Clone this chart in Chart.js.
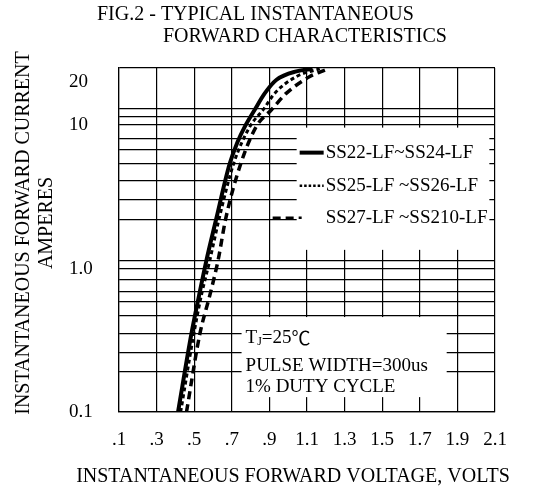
<!DOCTYPE html>
<html>
<head>
<meta charset="utf-8">
<script src="https://cdn.jsdelivr.net/npm/chart.js@4.4.0/dist/chart.umd.min.js"></script>
<style>
    html, body { margin: 0; padding: 0; background: #fff; }
    #wrap { width: 559px; height: 502px; }
</style>
</head>
<body>
<div id="wrap"><canvas id="myChart" width="559" height="502"></canvas></div>
<script>
// forward voltage (V) vs forward current (A)
const vfA = [0.414, 0.485, 0.526, 0.565, 0.618, 0.665, 0.689, 0.730, 0.770, 0.822, 0.876, 0.938, 1.044, 1.13];
const ifA = [0.1, 0.35, 0.65, 1.14, 2.24, 4.1, 5.4, 7.6, 9.8, 12.8, 16.7, 20.7, 23.7, 24.6];

const vfB = [0.428, 0.498, 0.538, 0.583, 0.633, 0.710, 0.797, 0.867, 0.929, 1.044, 1.168];
const ifB = [0.1, 0.35, 0.65, 1.14, 2.24, 5.4, 9.8, 12.8, 16.7, 21.8, 24.7];

const vfC = [0.459, 0.530, 0.583, 0.627, 0.668, 0.748, 0.831, 0.911, 0.991, 1.115, 1.20];
const ifC = [0.1, 0.35, 0.65, 1.14, 2.24, 5.4, 9.8, 12.8, 16.7, 21.8, 24.3];

const seriesNames = ['SS22-LF~SS24-LF', 'SS25-LF ~SS26-LF', 'SS27-LF ~SS210-LF'];

const xTicks = [0.1, 0.3, 0.5, 0.7, 0.9, 1.1, 1.3, 1.5, 1.7, 1.9, 2.1];
const xTickLabels = ['.1', '.3', '.5', '.7', '.9', '1.1', '1.3', '1.5', '1.7', '1.9', '2.1'];

// horizontal rules as drawn on the sheet (not a clean log grid)
const yGrid = [0.1, 0.19, 0.26, 0.35, 0.47, 0.59, 0.69, 0.84, 1, 1.13, 2.2, 3, 4.1, 5.4, 6.8, 8.1, 10, 11.5, 13.1, 20, 25];
const yTickLabels = { '0.1': '0.1', '1': '1.0', '10': '10', '20': '20' };

const serif = '"Liberation Serif", "Times New Roman", serif';

function pts(xs, ys) {
    return xs.map(function(v, i) { return { x: v, y: ys[i] }; });
}

const paperBits = {
    id: 'paperBits',
    beforeDatasetsDraw: function(chart) {
        let ctx = chart.ctx;
        let x = chart.scales.x, y = chart.scales.y;
        ctx.save();
        ctx.fillStyle = '#fff';
        // legend block
        let l = x.getPixelForValue(1.045), r = x.getPixelForValue(2.07);
        let t = y.getPixelForValue(9.6), b = y.getPixelForValue(1.35);
        ctx.fillRect(l, t, r - l, b - t);
        // test condition block
        l = x.getPixelForValue(0.752); r = x.getPixelForValue(1.843);
        t = y.getPixelForValue(0.459); b = y.getPixelForValue(0.127);
        ctx.fillRect(l, t, r - l, b - t);
        ctx.restore();
    },
    afterDraw: function(chart) {
        let ctx = chart.ctx;
        let x = chart.scales.x, y = chart.scales.y;
        ctx.save();
        ctx.fillStyle = '#000';
        ctx.strokeStyle = '#000';
        ctx.textBaseline = 'middle';

        // title
        ctx.font = '20px ' + serif;
        ctx.textAlign = 'left';
        ctx.fillText('FIG.2 - TYPICAL INSTANTANEOUS', 97, 15);
        ctx.fillText('FORWARD CHARACTERISTICS', 163, 37);

        // x axis title
        ctx.textAlign = 'center';
        ctx.fillText('INSTANTANEOUS FORWARD VOLTAGE, VOLTS', 293, 477);

        // y axis title
        ctx.save();
        ctx.translate(24, 233);
        ctx.rotate(-Math.PI / 2);
        ctx.fillText('INSTANTANEOUS FORWARD CURRENT', 0, 0);
        ctx.restore();
        ctx.save();
        ctx.translate(47, 223);
        ctx.rotate(-Math.PI / 2);
        ctx.fillText('AMPERES', 0, 0);
        ctx.restore();

        // legend
        let lx = x.getPixelForValue(1.045);
        let ly = y.getPixelForValue(9.6);
        let rows = [ly + 25, ly + 58, ly + 90];
        let ds = chart.data.datasets;
        ctx.font = '19px ' + serif;
        ctx.textAlign = 'left';
        rows.forEach(function(ry, i) {
            ctx.save();
            ctx.lineWidth = i === 0 ? 4 : 2.5;
            ctx.setLineDash(i === 1 ? [2.5, 2] : (ds[i].borderDash || []));
            ctx.beginPath();
            let sx = i === 2 ? lx - 24 : lx + 3;
            let ex = i === 2 ? lx + 5 : lx + 27;
            ctx.moveTo(sx, ry);
            ctx.lineTo(ex, ry);
            ctx.stroke();
            ctx.restore();
            ctx.fillText(seriesNames[i], lx + 29, ry);
        });

        // test conditions
        let nx = x.getPixelForValue(0.752) + 4;
        let ny = y.getPixelForValue(0.459);
        ctx.fillText('T', nx, ny + 21);
        let tw = ctx.measureText('T').width;
        ctx.font = '12px ' + serif;
        ctx.fillText('J', nx + tw, ny + 25);
        let jw = ctx.measureText('J').width;
        ctx.font = '19px ' + serif;
        ctx.fillText('=25', nx + tw + jw, ny + 21);
        let ew = ctx.measureText('=25').width;
        ctx.font = '19px "Noto Sans CJK SC", "DejaVu Sans", sans-serif';
        ctx.fillText('\u2103', nx + tw + jw + ew, ny + 21);
        ctx.font = '19px ' + serif;
        ctx.fillText('PULSE WIDTH=300us', nx, ny + 49);
        ctx.fillText('1% DUTY CYCLE', nx, ny + 70);
        ctx.restore();
    }
};

let ctx = document.getElementById('myChart').getContext('2d');
let chart = new Chart(ctx, {
    type: 'line',
    data: {
        datasets: [{
            label: seriesNames[0],
            data: pts(vfA, ifA),
            borderColor: '#000',
            borderWidth: 4
        }, {
            label: seriesNames[1],
            data: pts(vfB, ifB),
            borderColor: '#000',
            borderWidth: 3,
            borderDash: [4, 3]
        }, {
            label: seriesNames[2],
            data: pts(vfC, ifC),
            borderColor: '#000',
            borderWidth: 3.5,
            borderDash: [8, 5]
        }]
    },
    options: {
        responsive: false,
        animation: false,
        layout: {
            padding: { top: 68, right: 64, bottom: 0, left: 69 }
        },
        elements: {
            point: { radius: 0 },
            line: { cubicInterpolationMode: 'monotone', fill: false }
        },
        plugins: {
            legend: { display: false },
            title: { display: false },
            tooltip: { enabled: false }
        },
        scales: {
            x: {
                type: 'linear',
                min: 0.1,
                max: 2.1,
                afterBuildTicks: function(scale) {
                    scale.ticks = xTicks.map(function(v) { return { value: v }; });
                },
                afterFit: function(scale) {
                    scale.height = 90;
                },
                grid: { color: '#000', lineWidth: 1.2, drawTicks: false },
                border: { color: '#000', width: 1.2 },
                ticks: {
                    autoSkip: false,
                    maxRotation: 0,
                    padding: 17,
                    color: '#000',
                    font: { family: serif, size: 19 },
                    callback: function(v, i) { return xTickLabels[i]; }
                }
            },
            y: {
                type: 'logarithmic',
                min: 0.1,
                max: 25,
                afterBuildTicks: function(scale) {
                    scale.ticks = yGrid.map(function(v) { return { value: v }; });
                },
                afterFit: function(scale) {
                    scale.width = 50;
                },
                grid: {
                    color: function(c) {
                        return c.tick && c.tick.value === 20 ? 'rgba(0,0,0,0)' : '#000';
                    },
                    lineWidth: 1.2,
                    drawTicks: false
                },
                border: { color: '#000', width: 1.2 },
                ticks: {
                    autoSkip: false,
                    crossAlign: 'far',
                    color: '#000',
                    font: { family: serif, size: 19 },
                    callback: function(v) { return yTickLabels[String(v)] || ''; }
                }
            }
        }
    },
    plugins: [paperBits]
});
</script>
</body>
</html>
